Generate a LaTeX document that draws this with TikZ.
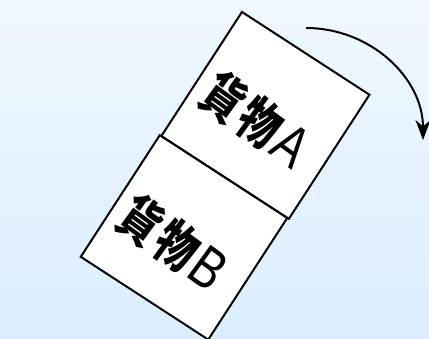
\documentclass[tikz,border=0pt]{standalone}
\usepackage{fontspec}
\newfontfamily\cjk{Noto Sans CJK JP}
\newfontfamily\latinsans{Liberation Sans}
\usetikzlibrary{arrows.meta}
\definecolor{bgtop}{RGB}{240,248,255}
\definecolor{bgbot}{RGB}{219,238,255}
\tikzset{
  cargo/.style={draw=black, line width=2pt, fill=white, rectangle, rotate=-33, minimum width=152pt, inner sep=0pt},
  cargotext/.style={rotate=-36, font=\fontsize{46}{48}\selectfont, inner sep=0pt},
  turn/.style={line width=2pt, -{Stealth[length=20pt, width=15pt]}}
}
\newcommand{\cargolabel}[1]{\scalebox{0.88}[1.12]{{\cjk\bfseries 貨\hspace{4pt}物}\hspace{4pt}{\latinsans\fontsize{52}{54}\selectfont #1}}}
\begin{document}
\begin{tikzpicture}[x=1pt,y=-1pt]
  \shade[top color=bgtop, bottom color=bgbot] (0,0) rectangle (429,338);
  \useasboundingbox (0,0) rectangle (429,338);
  \node[cargo, minimum height=148pt] (boxA) at (265.4,115.4) {};
  \node[cargo, minimum height=145pt] (boxB) at (184,237.4) {};
  \node[cargotext] (txtA) at (256,120) {\cargolabel{A}};
  \node[cargotext] (txtB) at (173,243) {\cargolabel{B}};
  \coordinate (arcstart) at (306,28);
  \draw[turn] (arcstart) arc[start angle=90, end angle=0, x radius=117pt, y radius=112pt];
\end{tikzpicture}
\end{document}
